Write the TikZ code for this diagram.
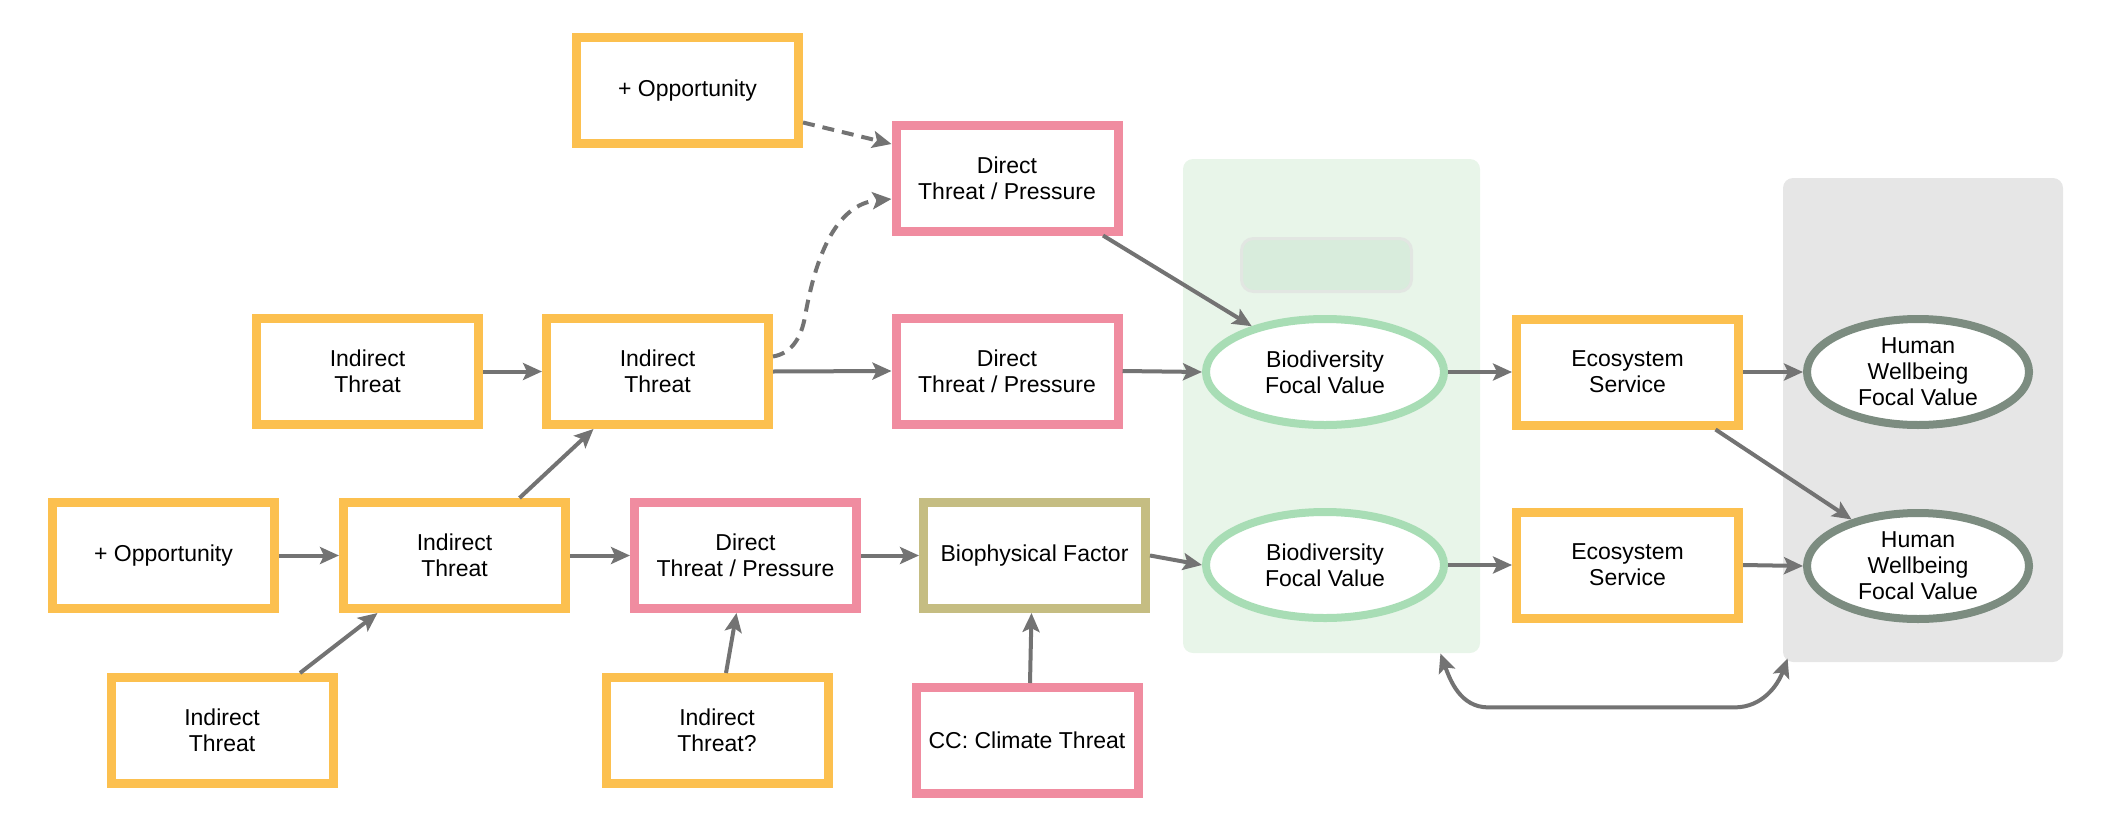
\documentclass[tikz,border=0pt]{standalone}
\usepackage{fontspec}
\setmainfont{Liberation Sans}
\usetikzlibrary{arrows.meta}
\usetikzlibrary{positioning}
\usetikzlibrary{shapes.geometric}
\definecolor{threatyellow}{HTML}{FCC04F}
\definecolor{threatpink}{HTML}{F08CA0}
\definecolor{factorolive}{HTML}{C5BD82}
\definecolor{biogreen}{HTML}{A8DDB5}
\definecolor{humangray}{HTML}{7C8C80}
\definecolor{biopanel}{HTML}{E8F5E9}
\definecolor{humanpanel}{HTML}{E6E6E6}
\definecolor{biolabel}{HTML}{D8ECDC}
\definecolor{biolabeledge}{HTML}{E2E6E2}
\definecolor{linkgray}{HTML}{737373}

\begin{document}
\begin{tikzpicture}[
      x=0.5pt, y=-0.5pt,
      >={Stealth[length=9.5pt,width=8.5pt,inset=2pt]},
      every node/.style={font=\fontsize{11.5}{13}\selectfont},
      box/.style ={rectangle, line width=4.5pt, fill=white, minimum width=111pt, minimum height=53pt, align=center, inner sep=1pt},
      indirect/.style={box, draw=threatyellow},
      direct/.style={box, draw=threatpink},
      factor/.style={box, draw=factorolive},
      biovalue/.style={ellipse, line width=4pt, draw=biogreen, fill=white, minimum width=119pt, minimum height=53pt, align=center, inner sep=0pt},
      humanvalue/.style={ellipse, line width=4pt, draw=humangray, fill=white, minimum width=111pt, minimum height=53pt, align=center, inner sep=0pt},
      panel/.style={rectangle, rounded corners=5pt, inner sep=0pt},
      link/.style={->, line width=2pt, draw=linkgray},
      maybe/.style={link, dash pattern=on 6pt off 4pt},
      node distance=30pt
    ]
    \useasboundingbox (0,0) rectangle (2113,830);
    \node [panel, fill=biopanel, minimum width=148.5pt, minimum height=247pt] (biozone) at (1331.5,406) {};
    \node [panel, fill=humanpanel, minimum width=140pt, minimum height=242pt] (humanzone) at (1923,420) {};
    \node [panel, rounded corners=6pt, fill=biolabel, draw=biolabeledge, line width=1.5pt, minimum width=85pt, minimum height=26.5pt] (biotag) at (1326.5,265) {};

    \node [indirect] (oppa) at (687.5,90.5) {+ Opportunity} ;
    \node [direct] (dta) at (1007,178) {Direct\\Threat / Pressure} ;
    \node [direct] (dtb) [below=39pt of dta] {Direct\\Threat / Pressure} ;
    \node [indirect] (ita) at (367.5,371.5) {Indirect\\Threat} ;
    \node [indirect] (itb) [right=29.5pt of ita] {Indirect\\Threat} ;
    \node [biovalue] (bfva) at (1325,372) {Biodiversity\\Focal Value} ;
    \node [indirect] (esa) at (1627.5,372) {Ecosystem\\Service} ;
    \node [humanvalue] (hwa) at (1918,372) {Human\\Wellbeing\\Focal Value} ;
    \node [indirect] (oppb) at (163.5,555.5) {+ Opportunity} ;
    \node [indirect] (itc) [right=of oppb] {Indirect\\Threat} ;
    \node [direct] (dtc) [right=of itc] {Direct\\Threat / Pressure} ;
    \node [factor] (bf) [right=29pt of dtc] {Biophysical Factor} ;
    \node [biovalue] (bfvb) at (1325,565) {Biodiversity\\Focal Value} ;
    \node [indirect] (esb) at (1627.5,565) {Ecosystem\\Service} ;
    \node [humanvalue] (hwb) at (1918,566) {Human\\Wellbeing\\Focal Value} ;
    \node [indirect] (itd) at (222,730.5) {Indirect\\Threat} ;
    \node [indirect] (itq) at (717,730.5) {Indirect\\Threat?} ;
    \node [direct] (cc) at (1027,740.5) {CC: Climate Threat} ;

    \draw [maybe] ([yshift=-16pt]oppa.east) -- ([yshift=17pt]dta.west) ;
    \draw [maybe] ([yshift=7.5pt]itb.east) to[out=10, in=-100] ++(32,-40) to[out=80, in=185] ([yshift=-10.5pt]dta.west) ;
    \draw [link] (ita.east) -- (itb.west) ;
    \draw [link] (itb.east) -- (dtb.west) ;
    \draw [link] (dtb.east) -- (bfva.west) ;
    \draw [link] (bfva.east) -- (esa.west) ;
    \draw [link] (esa.east) -- (hwa.west) ;
    \draw [link] ([xshift=48pt]dta.south) -- (bfva.148) ;
    \draw [link] (oppb.east) -- (itc.west) ;
    \draw [link] (itc.east) -- (dtc.west) ;
    \draw [link] (dtc.east) -- (bf.west) ;
    \draw [link] (bf.east) -- (bfvb.west) ;
    \draw [link] (bfvb.east) -- (esb.west) ;
    \draw [link] (esb.east) -- (hwb.west) ;
    \draw [link] ([xshift=32.5pt]itc.north) -- ([xshift=-32pt]itb.south) ;
    \draw [link] ([xshift=39pt]itd.north) -- ([xshift=-38.5pt]itc.south) ;
    \draw [link] ([xshift=4.5pt]itq.north) -- ([xshift=-4.5pt]dtc.south) ;
    \draw [link] ([xshift=1.5pt]cc.north) -- ([xshift=-1.5pt]bf.south) ;
    \draw [link] ([xshift=44pt]esa.south) -- (hwb.145) ;
    \draw [link, <->] ([xshift=-20pt]biozone.south east) to[out=-70, in=180] ++(48,54) -- ++(246,0) to[out=0, in=-110] ([xshift=2.5pt, yshift=2pt]humanzone.south west) ;
  \end{tikzpicture}
\end{document}
